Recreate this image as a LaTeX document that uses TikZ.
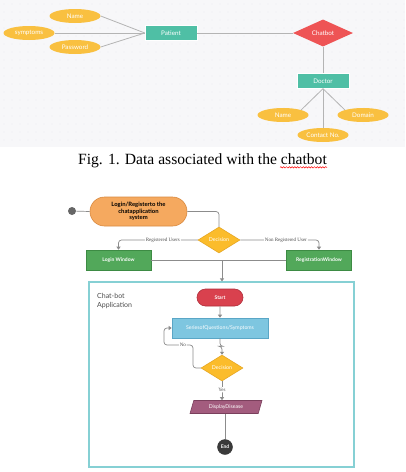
\documentclass[tikz,border=0pt]{standalone}
\usepackage{fontspec}
\setmainfont{Liberation Serif}
\setsansfont{Lato}
\usetikzlibrary{shapes.geometric,shapes.misc,arrows.meta,decorations.pathmorphing,calc}
\definecolor{bgc}{HTML}{F7F7F9}
\definecolor{dotc}{HTML}{DCDCE2}
\definecolor{attrc}{HTML}{F9C040}
\definecolor{entc}{HTML}{4FBFA5}
\definecolor{relc}{HTML}{EE5455}
\definecolor{erline}{HTML}{B4B4B4}
\definecolor{flowc}{HTML}{8C8C8C}
\definecolor{orangec}{HTML}{F5A95F}
\definecolor{orangeb}{HTML}{D98A40}
\definecolor{decc}{HTML}{FBBC2B}
\definecolor{decb}{HTML}{E3A21E}
\definecolor{greenc}{HTML}{52A85A}
\definecolor{greenb}{HTML}{3D8B44}
\definecolor{redc}{HTML}{D9414E}
\definecolor{redb}{HTML}{B02F3B}
\definecolor{bluec}{HTML}{7EC6E0}
\definecolor{blueb}{HTML}{5AA6C6}
\definecolor{mauvec}{HTML}{A35C7E}
\definecolor{mauveb}{HTML}{7A3F5C}
\definecolor{endc}{HTML}{3A3A3A}
\definecolor{tealb}{HTML}{86D0D4}
\begin{document}
\begin{tikzpicture}[x=1pt,y=-1pt,
  tiny/.style={font=\sffamily\fontsize{6.3}{7}\selectfont},
  attr/.style={ellipse, fill=attrc, draw=none, minimum width=51pt, minimum height=14pt, inner sep=0pt, text=white, tiny},
  ent/.style={rectangle, fill=entc, draw=white, line width=0.4pt, minimum width=52pt, minimum height=15pt, inner sep=0pt, text=white, tiny},
  rel/.style={diamond, fill=relc, draw=none, minimum width=60pt, minimum height=21pt, inner sep=0pt, text=white, tiny},
  erl/.style={draw=erline, line width=0.8pt},
  flow/.style={draw=flowc, line width=0.7pt, rounded corners=3pt},
  tip/.style={-{Triangle[width=4pt,length=3pt]}},
  lab/.style={fill=white, inner sep=1pt, text=black!70, font=\fontsize{5}{5.5}\selectfont},
  pill/.style={rounded rectangle, line width=0.6pt, inner sep=0pt},
  dec/.style={diamond, fill=decc, draw=decb, line width=0.5pt, minimum width=42pt, minimum height=26pt, inner sep=0pt, text=white, font=\sffamily\fontsize{5.3}{6}\selectfont},
  gbox/.style={rectangle, fill=greenc, draw=greenb, line width=0.6pt, minimum width=65pt, minimum height=20pt, inner sep=0pt, text=white, font=\sffamily\bfseries\fontsize{5}{5.5}\selectfont}
]
\useasboundingbox (0,0) rectangle (405,472);
\fill[white] (0,0) rectangle (405,472);
\fill[bgc] (0,0) rectangle (405,147);
\foreach \i in {0,...,50} \foreach \j in {0,...,17} \fill[dotc] (4+8*\i, 4+8*\j) circle (0.45pt);

% ER diagram
\node[attr] (pname) at (75,16) {Name};
\node[attr] (psym) at (29,33) {symptoms};
\node[attr] (ppw) at (75,47) {Password};
\node[ent] (patient) at (171,33) {Patient};
\node[rel] (chatbot) at (323,33) {Chatbot};
\node[ent] (doctor) at (323,81) {Doctor};
\node[attr] (dname) at (283,115) {Name};
\node[attr] (ddom) at (363,115) {Domain};
\node[attr] (dcon) at (323,135) {Contact No.};
\draw[erl] (pname.east) -- (patient.west);
\draw[erl] (psym.east) -- (patient.west);
\draw[erl] (ppw.east) -- (patient.west);
\draw[erl] (patient.east) -- (chatbot.west);
\draw[erl] (chatbot.south) -- (doctor.north);
\draw[erl] (doctor.south) -- (dname.north east);
\draw[erl] (doctor.south) -- (ddom.north west);
\draw[erl] (doctor.south) -- (dcon.north);

% caption
\node[font=\fontsize{15.6}{18}\selectfont, inner sep=0pt] (cap) at (202.5,161) {Fig. 1. Data associated with the chatbot};
\draw[red, line width=0.5pt, decorate, decoration={snake, amplitude=0.7pt, segment length=2.8pt}]
  ($(cap.base east)+(-47,2.6)$) -- ($(cap.base east)+(0,2.6)$);

% flowchart
\node[circle, fill=gray!80!black, minimum size=8pt, inner sep=0pt] (init) at (72,211) {};
\node[pill, fill=orangec, draw=orangeb, minimum width=97pt, minimum height=29pt, align=center, font=\sffamily\bfseries\fontsize{5.9}{6.3}\selectfont] (login) at (138.5,211.5) {Login/Registerto the\\chatapplication\\system};
\draw[flow] (init) -- (login.west);
\node[dec] (dec1) at (219,240) {Decision};
\draw[flow] (login.east) -| (dec1.north);
\node[gbox] (lw) at (118.5,260) {Login Window};
\node[gbox] (rw) at (319,260) {RegistrationWindow};
\draw[flow, tip] (dec1.west) -| node[pos=0.22, lab] {Registered Users} (lw.north);
\draw[flow, tip] (dec1.east) -| node[pos=0.29, lab] {Non Registered User} (rw.north);
\node[draw=tealb, line width=1.2pt, minimum width=265pt, minimum height=185pt, inner sep=0pt] (app) at (221.5,374.5) {};
\coordinate (m) at (222,260);
\draw[flow] (lw.east) -- (m);
\draw[flow] (rw.west) -- (m);
\draw[flow, tip] (m) -- (m |- app.north);
\node[anchor=north west, align=left, inner sep=0pt, text=black!70, font=\sffamily\fontsize{7}{8.2}\selectfont] (applab) at (97,293.5) {Chat-bot\\Application};
\node[pill, fill=redc, draw=redb, minimum width=46pt, minimum height=17pt, text=white, font=\sffamily\bfseries\fontsize{5}{5.5}\selectfont] (start) at (220,297.5) {Start};
\node[rectangle, fill=bluec, draw=blueb, line width=0.6pt, minimum width=96pt, minimum height=20pt, inner sep=0pt, text=white, font=\sffamily\fontsize{5.2}{6}\selectfont] (series) at (220,328) {SeriesofQuestions/Symptoms};
\draw[flow, tip] (start) -- (series);
\node[dec] (dec2) at (222,368) {Decision};
\draw[flow, tip] (series.south) -- ++(0,8) -| (dec2.north);
\coordinate (n1) at (193,345);
\coordinate (n2) at (164,328);
\draw[flow, tip] (dec2.west) -| (n1) -- node[pos=0.35, lab] {No} (n1 -| n2) -- (n2) -- (series.west);
\node[trapezium, trapezium left angle=67, trapezium right angle=113, trapezium stretches=true, fill=mauvec, draw=mauveb, line width=0.6pt, minimum width=72pt, minimum height=13pt, inner sep=0pt, text=white, font=\sffamily\fontsize{5.2}{6}\selectfont] (disp) at (226,407) {DisplayDisease};
\draw[flow, tip] (dec2.south) -- node[pos=0.45, lab] {Yes} (dec2.south |- disp.north);
\node[circle, fill=endc, draw=black!80, minimum size=15pt, inner sep=0pt, text=white, font=\sffamily\bfseries\fontsize{5}{5.5}\selectfont] (end) at (225,447) {End};
\draw[flow] (disp.south -| end) -- (end.north);
\end{tikzpicture}
\end{document}
